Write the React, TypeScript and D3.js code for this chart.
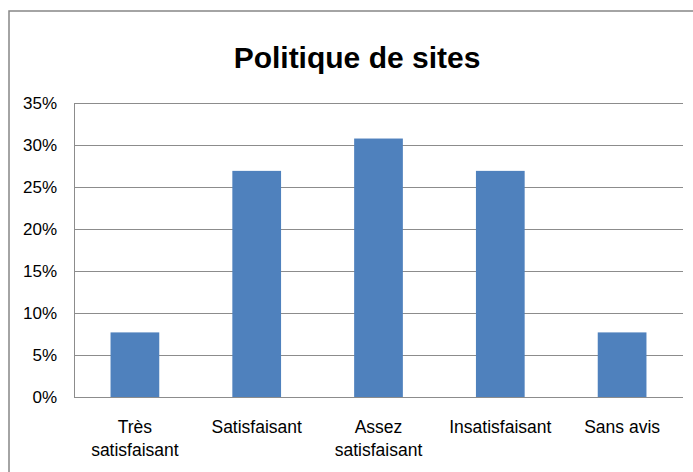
import * as d3 from "d3";
import { useEffect, useRef } from "react";

const categories = [
  ["Très", "satisfaisant"],
  ["Satisfaisant"],
  ["Assez", "satisfaisant"],
  ["Insatisfaisant"],
  ["Sans avis"],
];
const values = [0.0769, 0.2692, 0.3077, 0.2692, 0.0769];
const tickValues = [0, 0.05, 0.1, 0.15, 0.2, 0.25, 0.3, 0.35];
const title = "Politique de sites";

const W = 693;
const H = 472;
const FONT = "'Liberation Sans', Arial, sans-serif";

const App = () => {
  const ref = useRef<SVGSVGElement | null>(null);

  useEffect(() => {
    const svg = d3.select(ref.current);
    svg.selectAll("*").remove();

    const left = 74;
    const right = 683;
    const top = 103;
    const bottom = 397;

    // chart frame
    svg
      .append("rect")
      .attr("x", 9)
      .attr("y", 11)
      .attr("width", W + 20)
      .attr("height", H + 20)
      .attr("fill", "#fff")
      .attr("stroke", "#868686")
      .attr("stroke-width", 1.5);

    svg
      .append("text")
      .attr("x", 357)
      .attr("y", 68)
      .attr("text-anchor", "middle")
      .attr("font-family", FONT)
      .attr("font-weight", "bold")
      .attr("font-size", 30)
      .attr("fill", "#000")
      .text(title);

    const x = d3
      .scaleBand<number>()
      .domain(d3.range(values.length))
      .range([left, right])
      .paddingInner(0.6)
      .paddingOuter(0.3);

    const y = d3.scaleLinear().domain([0, 0.35]).range([bottom, top]);

    svg
      .append("g")
      .selectAll("line")
      .data(tickValues)
      .enter()
      .append("line")
      .attr("x1", left)
      .attr("x2", right)
      .attr("y1", (d) => Math.round(y(d)) + 0.5)
      .attr("y2", (d) => Math.round(y(d)) + 0.5)
      .attr("stroke", "#8c8c8c")
      .attr("stroke-width", 1);

    svg
      .append("line")
      .attr("x1", left + 0.5)
      .attr("x2", left + 0.5)
      .attr("y1", top)
      .attr("y2", bottom)
      .attr("stroke", "#8c8c8c");

    svg
      .append("g")
      .selectAll("text")
      .data(tickValues)
      .enter()
      .append("text")
      .attr("x", 57)
      .attr("y", (d) => y(d))
      .attr("dy", "0.36em")
      .attr("text-anchor", "end")
      .attr("font-family", FONT)
      .attr("font-size", 17)
      .attr("fill", "#000")
      .text((d) => d3.format(".0%")(d));

    svg
      .append("g")
      .selectAll("rect")
      .data(values)
      .enter()
      .append("rect")
      .attr("x", (_, i) => x(i)!)
      .attr("width", x.bandwidth())
      .attr("y", (d) => y(d))
      .attr("height", (d) => bottom - y(d))
      .attr("fill", "#4f81bd");

    const labels = svg
      .append("g")
      .selectAll("text")
      .data(categories)
      .enter()
      .append("text")
      .attr("x", (_, i) => x(i)! + x.bandwidth() / 2)
      .attr("y", 433)
      .attr("text-anchor", "middle")
      .attr("font-family", FONT)
      .attr("font-size", 17.5)
      .attr("fill", "#000");

    labels
      .selectAll("tspan")
      .data((d) => d)
      .enter()
      .append("tspan")
      .attr("x", function () {
        return (this.parentNode as SVGTextElement).getAttribute("x");
      })
      .attr("dy", (_, i) => (i === 0 ? 0 : 23))
      .text((d) => d);
  }, []);

  return (
    <svg
      ref={ref}
      width={W}
      height={H}
      style={{ position: "absolute", left: 0, top: 0, background: "#fff" }}
    />
  );
};

export default App;
